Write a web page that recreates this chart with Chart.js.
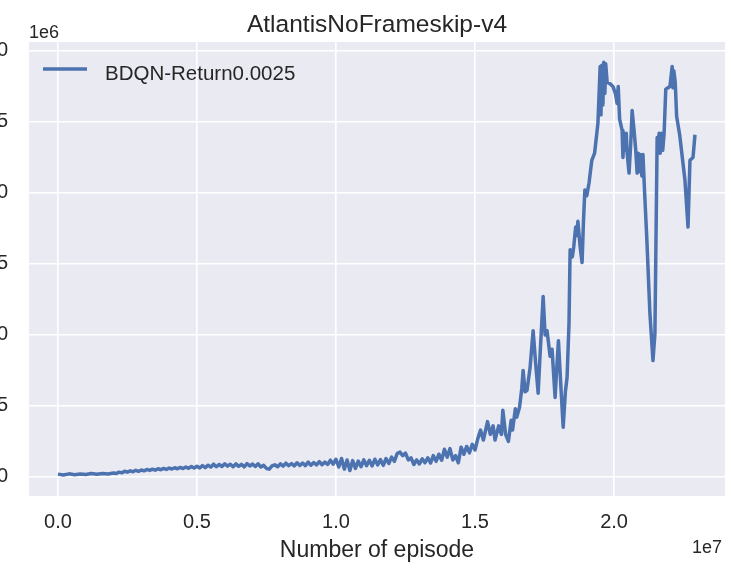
<!DOCTYPE html>
<html>
<head>
<meta charset="utf-8">
<script src="https://cdn.jsdelivr.net/npm/chart.js@4.4.0/dist/chart.umd.min.js"></script>
<style>
  html, body { margin: 0; padding: 0; background: #fff; overflow: hidden; }
  #wrap { position: absolute; left: -30px; top: 0; width: 773px; height: 579px; }
  canvas { filter: blur(0.6px); }
</style>
</head>
<body>
<div id="wrap"><canvas id="returnChart" width="773" height="579"></canvas></div>
<script>
// episodes in millions, returns in millions (axes show 1e7 / 1e6 offsets)
const episodes = [
  0.0, 0.2, 0.4, 0.6, 0.8, 1.0, 1.2, 1.4, 1.6, 1.8,
  2.0, 2.1, 2.2, 2.3, 2.4, 2.5, 2.6, 2.7, 2.8, 2.9,
  3.0, 3.1, 3.2, 3.3, 3.4, 3.5, 3.6, 3.7, 3.8, 3.9,
  4.0, 4.1, 4.2, 4.3, 4.4, 4.5, 4.6, 4.7, 4.8, 4.9,
  5.0, 5.1, 5.2, 5.3, 5.4, 5.5, 5.6, 5.7, 5.8, 5.9,
  6.0, 6.1, 6.2, 6.3, 6.4, 6.5, 6.6, 6.7, 6.8, 6.9,
  7.0, 7.1, 7.2, 7.3, 7.4, 7.5, 7.6, 7.7, 7.8, 7.9,
  8.0, 8.1, 8.2, 8.3, 8.4, 8.5, 8.6, 8.7, 8.8, 8.9,
  9.0, 9.1, 9.2, 9.3, 9.4, 9.5, 9.6, 9.7, 9.8, 9.9,
  10.0, 10.1, 10.2, 10.3, 10.4, 10.5, 10.6, 10.7, 10.8, 10.9,
  11.0, 11.1, 11.2, 11.3, 11.4, 11.5, 11.6, 11.7, 11.8, 11.9,
  12.0, 12.1, 12.2, 12.3, 12.4, 12.5, 12.6, 12.7, 12.8, 12.9,
  13.0, 13.1, 13.2, 13.3, 13.4, 13.5, 13.6, 13.7, 13.8, 13.9,
  14.0, 14.1, 14.2, 14.3, 14.4, 14.5, 14.6, 14.7, 14.8, 14.9,
  15.0, 15.1, 15.2, 15.3, 15.45, 15.55, 15.65, 15.72, 15.85, 15.95,
  16.0, 16.1, 16.2, 16.3, 16.35, 16.45, 16.5, 16.6, 16.68, 16.73,
  16.8, 16.87, 16.98, 17.09, 17.18, 17.27, 17.35, 17.45, 17.52, 17.59,
  17.7, 17.77, 17.88, 17.95, 18.0, 18.09, 18.17, 18.25, 18.31, 18.38,
  18.42, 18.5, 18.55, 18.62, 18.66, 18.7, 18.78, 18.85, 18.9, 18.95,
  19.02, 19.1, 19.2, 19.3, 19.42, 19.5, 19.53, 19.56, 19.6, 19.63,
  19.67, 19.7, 19.75, 19.85, 19.96, 20.05, 20.11, 20.15, 20.2, 20.29,
  20.32, 20.36, 20.4, 20.44, 20.47, 20.54, 20.6, 20.65, 20.72, 20.78,
  20.83, 20.87, 20.9, 20.94, 21.0, 21.04, 21.1, 21.18, 21.29, 21.4,
  21.47, 21.55, 21.58, 21.62, 21.66, 21.7, 21.75, 21.8, 21.86, 22.01,
  22.09, 22.12, 22.15, 22.2, 22.25, 22.36, 22.55, 22.66, 22.73, 22.84,
  22.91
];
const returns = [
  0.020, 0.014, 0.022, 0.016, 0.021, 0.017, 0.024, 0.019, 0.025, 0.021,
  0.028, 0.024, 0.034, 0.029, 0.040, 0.034, 0.043, 0.037, 0.047, 0.040,
  0.049, 0.043, 0.053, 0.046, 0.055, 0.048, 0.058, 0.051, 0.060, 0.053,
  0.063, 0.056, 0.065, 0.058, 0.067, 0.059, 0.070, 0.061, 0.073, 0.063,
  0.075, 0.064, 0.080, 0.066, 0.083, 0.069, 0.090, 0.072, 0.088, 0.074,
  0.093, 0.076, 0.090, 0.072, 0.092, 0.075, 0.089, 0.071, 0.094, 0.077,
  0.091, 0.074, 0.093, 0.070, 0.082, 0.060, 0.055, 0.078, 0.086, 0.072,
  0.092, 0.076, 0.097, 0.079, 0.095, 0.078, 0.100, 0.081, 0.098, 0.080,
  0.104, 0.083, 0.102, 0.085, 0.108, 0.086, 0.105, 0.088, 0.118, 0.090,
  0.125, 0.070, 0.130, 0.055, 0.120, 0.045, 0.115, 0.060, 0.112, 0.072,
  0.120, 0.080, 0.118, 0.078, 0.125, 0.085, 0.122, 0.082, 0.130, 0.095,
  0.140, 0.110, 0.165, 0.175, 0.150, 0.168, 0.120, 0.135, 0.088, 0.120,
  0.092, 0.128, 0.100, 0.135, 0.098, 0.150, 0.110, 0.160, 0.118, 0.195,
  0.140, 0.200, 0.120, 0.150, 0.100, 0.210, 0.160, 0.215, 0.170, 0.230,
  0.19, 0.27, 0.33, 0.26, 0.39, 0.30, 0.36, 0.26, 0.36, 0.30,
  0.47, 0.30, 0.25, 0.40, 0.33, 0.48, 0.42, 0.49, 0.62, 0.75,
  0.60, 0.61, 0.77, 1.03, 0.80, 0.59, 0.90, 1.27, 1.00, 1.03,
  0.85, 0.90, 0.56, 0.80, 0.96, 0.63, 0.35, 0.60, 0.70, 1.08,
  1.60, 1.55, 1.62, 1.76, 1.70, 1.80, 1.62, 1.51, 1.80, 2.02,
  1.98, 2.07, 2.23, 2.28, 2.49, 2.89, 2.55, 2.90, 2.62, 2.92,
  2.70, 2.91, 2.78, 2.77, 2.75, 2.70, 2.63, 2.75, 2.52, 2.44,
  2.25, 2.42, 2.30, 2.42, 2.28, 2.14, 2.35, 2.58, 2.44, 2.30,
  2.14, 2.28, 2.15, 2.27, 2.12, 2.27, 2.00, 1.67, 1.15, 0.82,
  1.01, 2.39, 2.28, 2.42, 2.28, 2.42, 2.30, 2.42, 2.73, 2.75,
  2.89, 2.74, 2.86, 2.78, 2.54, 2.41, 2.09, 1.76, 2.23, 2.25,
  2.41
];
const xTicks = [0, 5, 10, 15, 20];
const yTicks = [0, 0.5, 1.0, 1.5, 2.0, 2.5, 3.0];
const seriesLabel = 'BDQN-Return0.0025';
const chartTitle = 'AtlantisNoFrameskip-v4';

const FONT = "'Liberation Sans', Arial, sans-serif";
const TEXT = '#262626';
const LINE = '#4C72B0';

// axes background, title, offset labels and legend, seaborn style
const seabornFrame = {
  id: 'seabornFrame',
  beforeDraw(chart) {
    const { ctx, chartArea: a } = chart;
    ctx.save();
    ctx.fillStyle = '#EAEAF2';
    ctx.fillRect(a.left, a.top, a.right - a.left, a.bottom - a.top);
    ctx.restore();
  },
  afterDraw(chart) {
    const { ctx, chartArea: a } = chart;
    ctx.save();
    ctx.fillStyle = TEXT;
    ctx.textBaseline = 'alphabetic';

    ctx.font = '24.5px ' + FONT;
    ctx.textAlign = 'center';
    ctx.fillText(chartTitle, (a.left + a.right) / 2, 32);

    ctx.font = '18px ' + FONT;
    ctx.textAlign = 'left';
    ctx.fillText('1e6', a.left, 38);
    ctx.textAlign = 'right';
    ctx.fillText('1e7', a.right - 3, 553);

    // legend
    ctx.strokeStyle = LINE;
    ctx.lineWidth = 3.5;
    ctx.beginPath();
    ctx.moveTo(a.left + 14, 69);
    ctx.lineTo(a.left + 58, 69);
    ctx.stroke();
    ctx.font = '20.5px ' + FONT;
    ctx.textAlign = 'left';
    ctx.fillText(seriesLabel, a.left + 76, 80);
    ctx.restore();
  }
};

const ctx = document.getElementById('returnChart').getContext('2d');
new Chart(ctx, {
  type: 'line',
  data: {
    datasets: [{
      label: seriesLabel,
      data: episodes.map((x, i) => ({ x: x, y: returns[i] })),
      borderColor: LINE,
      borderWidth: 3.5,
      borderJoinStyle: 'round',
      pointRadius: 0,
      tension: 0,
      fill: false
    }]
  },
  options: {
    responsive: false,
    animation: false,
    layout: { padding: { top: 42, right: 18, bottom: 0, left: 0 } },
    plugins: {
      legend: { display: false },
      title: { display: false },
      tooltip: { enabled: false }
    },
    scales: {
      x: {
        type: 'linear',
        min: -1.04,
        max: 23.99,
        afterBuildTicks: s => { s.ticks = xTicks.map(v => ({ value: v })); },
        afterFit: s => { s.height = 83; },
        grid: { color: '#ffffff', lineWidth: 1.6, drawTicks: false },
        border: { display: false },
        ticks: {
          padding: 14,
          color: TEXT,
          font: { family: FONT, size: 20 },
          callback: v => (v / 10).toFixed(1)
        },
        title: {
          display: true,
          text: 'Number of episode',
          color: TEXT,
          font: { family: FONT, size: 23 },
          padding: { top: 0, bottom: 15 }
        }
      },
      y: {
        type: 'linear',
        min: -0.134,
        max: 3.063,
        afterBuildTicks: s => { s.ticks = yTicks.map(v => ({ value: v })); },
        afterFit: s => { s.width = 59; },
        grid: { color: '#ffffff', lineWidth: 1.6, drawTicks: false },
        border: { display: false },
        ticks: {
          padding: 21,
          color: TEXT,
          font: { family: FONT, size: 20 },
          callback: v => v.toFixed(1)
        }
      }
    }
  },
  plugins: [seabornFrame]
});
</script>
</body>
</html>
